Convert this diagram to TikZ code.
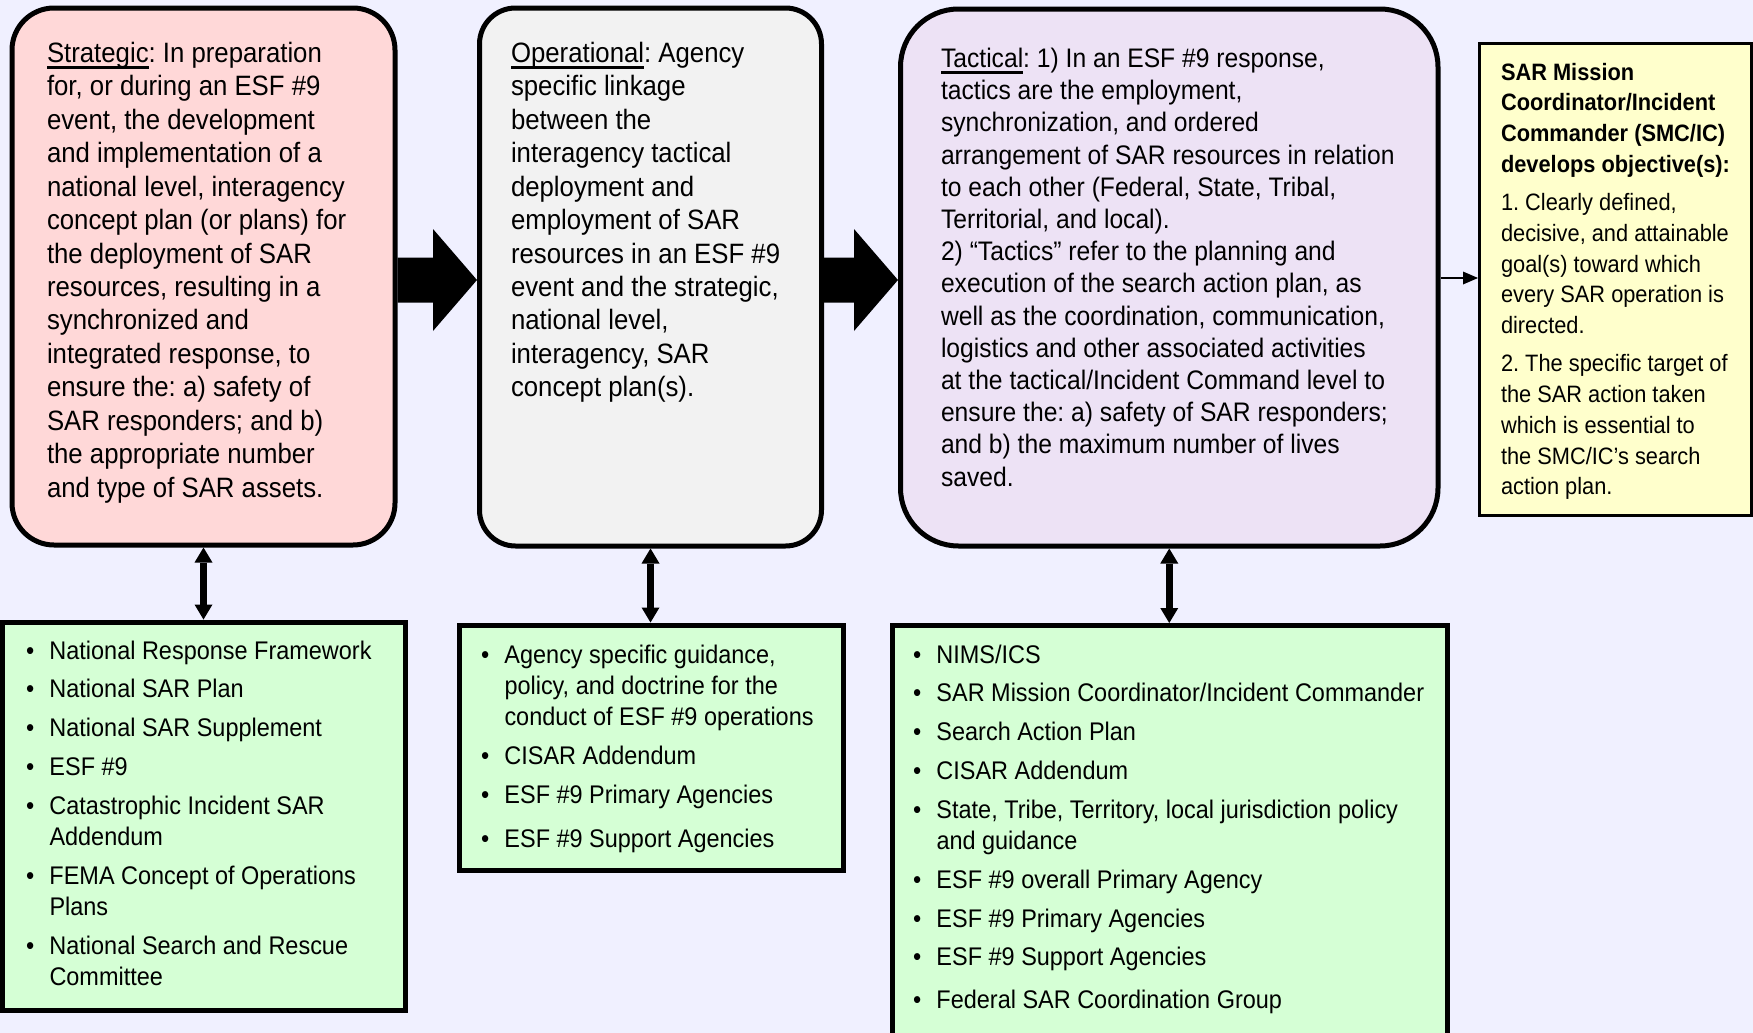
\documentclass[tikz,border=0pt]{standalone}
\usepackage{fontspec}
\setmainfont{Liberation Sans}[FakeStretch=0.92]
\usetikzlibrary{arrows.meta,calc}
\frenchspacing

\definecolor{bgcol}{RGB}{240,240,255}
\definecolor{pinkfill}{RGB}{255,216,216}
\definecolor{greyfill}{RGB}{242,242,242}
\definecolor{lilacfill}{RGB}{237,226,245}
\definecolor{yellowfill}{RGB}{255,255,204}
\definecolor{greenfill}{RGB}{213,255,213}

% type sizes for the different blocks of text
\newcommand\topfont{\fontsize{14}{16.75}\selectfont}
\newcommand\tacfont{\fontsize{13.4}{16.1}\selectfont}
\newcommand\goalfont{\fontsize{11.85}{15.4}\selectfont}
\newcommand\listfont{\fontsize{12.75}{15.65}\selectfont}

% underlined heading word, rule just under the baseline
\newcommand\ulword[1]{\leavevmode\setbox0=\hbox{#1}\rlap{\rule[-3.4pt]{\wd0}{1.5pt}}\box0}
% bullet with hanging indent
\newcommand\bul{\makebox[11.75pt][l]{•}}
\newcommand\hang{\hspace*{11.75pt}}

% filled block arrow between two nodes at height (ay)
\newcommand\blockarrow[2]{%
  \fill ($(#1.east |- ay)+(0,-22.5)$) -- ($(#2.west |- ay)+(-44,-22.5)$)
     -- ($(#2.west |- ay)+(-44,-51)$) -- (#2.west |- ay)
     -- ($(#2.west |- ay)+(-44,51)$) -- ($(#2.west |- ay)+(-44,22.5)$)
     -- ($(#1.east |- ay)+(0,22.5)$) -- cycle;}

\tikzset{
  topbox/.style={draw=black, line width=2.5pt, inner sep=0pt},
  listbox/.style={draw=black, line width=2.5pt, fill=greenfill, inner sep=0pt},
  goalbox/.style={draw=black, line width=1.5pt, fill=yellowfill, inner sep=0pt},
  txt/.style={anchor=base west, inner sep=0pt, outer sep=0pt, text=black},
  linkarrow/.style={line width=3.5pt,
    {Triangle[width=9pt,length=7.5pt,line width=0pt]}-{Triangle[width=9pt,length=7.5pt,line width=0pt]}},
  feedarrow/.style={line width=1pt, -{Triangle[width=6.5pt,length=7.5pt,line width=0pt]}},
}

\begin{document}
\begin{tikzpicture}[x=0.5pt,y=-0.5pt]
\useasboundingbox (0,0) rectangle (1753,1033);
\clip (0,0) rectangle (1753,1033);
\fill[bgcol] (0,0) rectangle (1753,1033);

\coordinate (ay) at (0,280);
\coordinate (fy) at (0,278);

% upper row: strategic, operational, tactical, objectives
\node[topbox, fill=pinkfill, rounded corners=21pt,
      minimum width=191.5pt, minimum height=268.5pt] (strat) at (203.5,276.5) {};
\node[topbox, fill=greyfill, rounded corners=18pt,
      minimum width=171pt, minimum height=269pt] (oper) at (650.5,277) {};
\node[topbox, fill=lilacfill, rounded corners=29pt,
      minimum width=268.75pt, minimum height=268.5pt] (tact) at (1169.25,277.5) {};
\node[goalbox, minimum width=136pt, minimum height=236pt] (goal) at (1615.5,279.5) {};

% lower row: supporting documents and agencies
\node[listbox, minimum width=201.5pt, minimum height=194pt] (res1) at (204.25,816) {};
\node[listbox, minimum width=192pt, minimum height=122.5pt] (res2) at (651,747.5) {};
\node[listbox, minimum width=277.5pt, minimum height=209.75pt] (res3) at (1170,835.25) {};

% connectors
\blockarrow{strat}{oper}
\blockarrow{oper}{tact}
\draw[feedarrow] (tact.east |- fy) -- (goal.west |- fy);
\draw[linkarrow] (strat.south) -- (strat.south |- res1.north);
\draw[linkarrow] (oper.south) -- (oper.south |- res2.north);
\draw[linkarrow] (tact.south) -- (tact.south |- res3.north);

% texts
\node[txt] (stratT) at (47,62) {\parbox[t]{200pt}{\raggedright\topfont
\ulword{Strategic}: In preparation\\
for, or during an ESF \#9\\
event, the development\\
and implementation of a\\
national level, interagency\\
concept plan (or plans) for\\
the deployment of SAR\\
resources, resulting in a\\
synchronized and\\
integrated response, to\\
ensure the: a) safety of\\
SAR responders; and b)\\
the appropriate number\\
and type of SAR assets.}};

\node[txt] (operT) at (511,62) {\parbox[t]{200pt}{\raggedright\topfont
\ulword{Operational}: Agency\\
specific linkage\\
between the\\
interagency tactical\\
deployment and\\
employment of SAR\\
resources in an ESF \#9\\
event and the strategic,\\
national level,\\
interagency, SAR\\
concept plan(s).}};

\node[txt] (tactT) at (941,67.5) {\parbox[t]{260pt}{\raggedright\tacfont
\ulword{Tactical}: 1) In an ESF \#9 response,\\
tactics are the employment,\\
synchronization, and ordered\\
arrangement of SAR resources in relation\\
to each other (Federal, State, Tribal,\\
Territorial, and local).\\
2) “Tactics” refer to the planning and\\
execution of the search action plan, as\\
well as the coordination, communication,\\
logistics and other associated activities\\
at the tactical/Incident Command level to\\
ensure the: a) safety of SAR responders;\\
and b) the maximum number of lives\\
saved.}};

\node[txt] (goalT) at (1501,80) {\parbox[t]{140pt}{\raggedright\goalfont
{\bfseries SAR Mission\\
Coordinator/Incident\\
Commander (SMC/IC)\\
develops objective(s):}\\[3.65pt]
1. Clearly defined,\\
decisive, and attainable\\
goal(s) toward which\\
every SAR operation is\\
directed.\\[3.65pt]
2. The specific target of\\
the SAR action taken\\
which is essential to\\
the SMC/IC’s search\\
action plan.}};

\node[txt] (res1T) at (26,659) {\parbox[t]{200pt}{\raggedright\listfont
\bul National Response Framework\\[3.75pt]
\bul National SAR Plan\\[3.75pt]
\bul National SAR Supplement\\[3.75pt]
\bul ESF \#9\\[3.75pt]
\bul Catastrophic Incident SAR\\
\hang Addendum\\[3.75pt]
\bul FEMA Concept of Operations\\
\hang Plans\\[3.75pt]
\bul National Search and Rescue\\
\hang Committee}};

\node[txt] (res2T) at (481,663) {\parbox[t]{200pt}{\raggedright\listfont
\bul Agency specific guidance,\\
\hang policy, and doctrine for the\\
\hang conduct of ESF \#9 operations\\[3.75pt]
\bul CISAR Addendum\\[3.75pt]
\bul ESF \#9 Primary Agencies\\[6.5pt]
\bul ESF \#9 Support Agencies}};

\node[txt] (res3T) at (913,663) {\parbox[t]{280pt}{\raggedright\listfont
\bul NIMS/ICS\\[3.75pt]
\bul SAR Mission Coordinator/Incident Commander\\[3.75pt]
\bul Search Action Plan\\[3.75pt]
\bul CISAR Addendum\\[3.75pt]
\bul State, Tribe, Territory, local jurisdiction policy\\
\hang and guidance\\[3.75pt]
\bul ESF \#9 overall Primary Agency\\[3.75pt]
\bul ESF \#9 Primary Agencies\\[3.75pt]
\bul ESF \#9 Support Agencies\\[5.8pt]
\bul Federal SAR Coordination Group}};
\end{tikzpicture}
\end{document}
